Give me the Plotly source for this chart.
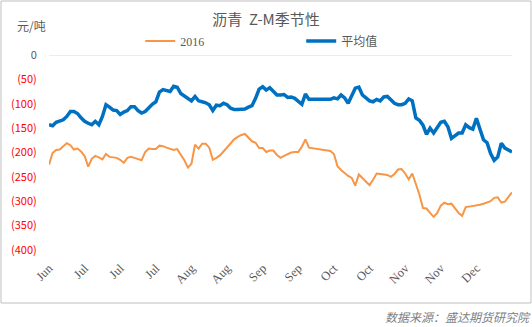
import plotly.graph_objects as go

# ---- data ----
day_index = list(range(131))
tick_index = [0, 10, 20, 30, 40, 50, 60, 70, 80, 90, 100, 110, 120]
tick_labels = ["Jun", "Jul", "Jul", "Jul", "Aug", "Aug", "Sep", "Sep", "Oct", "Oct", "Nov", "Nov", "Dec"]

series_2016 = [
    -225, -201, -195, -194, -187, -181, -185, -194, -192, -198,
    -207, -229, -213, -207, -210, -214, -203, -209, -210, -211,
    -215, -221, -211, -209, -211, -214, -216, -199, -192, -193,
    -193, -186, -187, -190, -192, -195, -193, -205, -216, -231,
    -223, -184, -192, -182, -182, -190, -215, -211, -206, -198,
    -190, -181, -173, -168, -164, -162, -170, -177, -180, -191,
    -191, -199, -196, -196, -205, -211, -207, -203, -200, -199,
    -199, -188, -173, -190, -191, -192, -193, -194, -196, -197,
    -203, -228, -236, -243, -248, -252, -268, -245, -252, -260,
    -267, -256, -243, -244, -245, -246, -250, -244, -235, -234,
    -243, -255, -243, -264, -286, -314, -315, -324, -332, -324,
    -309, -303, -306, -305, -314, -324, -330, -312, -311, -310,
    -309, -307, -305, -302, -300, -293, -292, -303, -301, -291,
    -282,
]

series_avg = [
    -143, -145, -138, -135, -133, -126, -116, -116, -120, -129,
    -136, -140, -143, -136, -143, -126, -102, -107, -113, -114,
    -122, -117, -114, -106, -106, -114, -119, -116, -108, -101,
    -96, -76, -71, -73, -75, -64, -66, -79, -84, -91,
    -94, -85, -94, -96, -98, -102, -114, -103, -104, -99,
    -102, -109, -112, -112, -111, -111, -107, -104, -89, -70,
    -65, -72, -67, -74, -82, -82, -81, -87, -86, -89,
    -94, -101, -80, -91, -91, -91, -91, -91, -91, -91,
    -88, -90, -82, -88, -99, -83, -68, -66, -82, -88,
    -94, -96, -91, -94, -86, -85, -92, -99, -102, -102,
    -99, -90, -94, -129, -134, -144, -163, -150, -160, -149,
    -138, -136, -147, -171, -165, -160, -160, -143, -149, -152,
    -130, -154, -174, -180, -202, -216, -209, -181, -191, -195,
    -199,
]

y_ticks = [0, -50, -100, -150, -200, -250, -300, -350, -400]
y_tick_text = ["0"] + ["<span style='color:#FF0000'>(%d)</span>" % (-v) for v in y_ticks[1:]]

fig = go.Figure()
fig.add_trace(go.Scatter(x=day_index, y=series_2016, mode="lines", name="2016",
                         line=dict(color="#F79646", width=2)))
fig.add_trace(go.Scatter(x=day_index, y=series_avg, mode="lines", name="平均值",
                         line=dict(color="#0070C0", width=3.5)))

fig.update_layout(
    width=532, height=327,
    margin=dict(l=49, r=20, t=55, b=77),
    paper_bgcolor="white", plot_bgcolor="white",
    font=dict(family="Noto Sans CJK SC", color="#595959", size=11),
    title=dict(text="沥青  Z-M季节性", x=0.5, xanchor="center", y=1 - 20 / 327, yanchor="middle",
               font=dict(family="Noto Sans CJK SC", size=15, color="#595959")),
    showlegend=True,
    legend=dict(orientation="h", x=0.197, xanchor="left", y=1.072, yanchor="middle",
                font=dict(family="Liberation Serif, Noto Sans CJK SC", size=12, color="#595959"),
                entrywidth=116, entrywidthmode="pixels", bgcolor="rgba(0,0,0,0)"),
    xaxis=dict(range=[0, 130], tickmode="array", tickvals=tick_index, ticktext=tick_labels,
               tickangle=-45, showgrid=False, zeroline=False, showline=False,
               ticks="outside", ticklen=5, tickcolor="rgba(0,0,0,0)",
               tickfont=dict(family="Liberation Serif", size=12.5, color="#595959")),
    yaxis=dict(range=[-400, 0], tickmode="array", tickvals=y_ticks, ticktext=y_tick_text,
               showgrid=False, zeroline=False, showline=False,
               ticks="outside", ticklen=9, tickcolor="rgba(0,0,0,0)",
               tickfont=dict(family="Noto Sans CJK SC", size=11, color="#595959")),
)

# axis line at 0 (top of plot area)
fig.add_shape(type="line", xref="paper", yref="y", x0=0, x1=1, y0=0, y1=0,
              line=dict(color="#D9D9D9", width=1))
# outer chart border
fig.add_shape(type="rect", xref="paper", yref="paper",
              x0=(1 - 49) / 463, x1=(531 - 49) / 463, y0=(250 - 303) / 195, y1=(250 - 1) / 195,
              line=dict(color="#BFBFBF", width=1))

fig.add_annotation(text="元/吨", xref="paper", yref="paper", x=(31 - 49) / 463, y=1 + (55 - 25) / 195,
                   xanchor="center", yanchor="middle", showarrow=False,
                   font=dict(family="Noto Sans CJK SC", size=12, color="#595959"))
fig.add_annotation(text="<i>数据来源：盛达期货研究院</i>", xref="paper", yref="paper",
                   x=(533 - 49) / 463, y=(250 - 316) / 195, xanchor="right", yanchor="middle",
                   showarrow=False,
                   font=dict(family="Noto Sans CJK SC", size=12, color="#7F7F7F"))

fig.write_html("out.html")
